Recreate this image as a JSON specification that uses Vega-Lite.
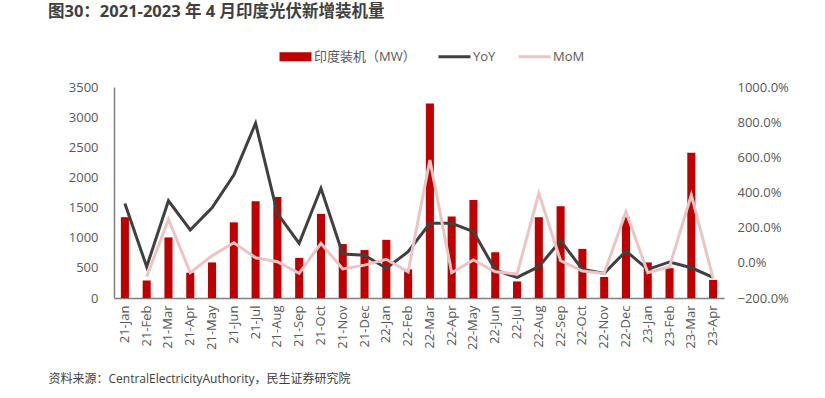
{
  "$schema": "https://vega.github.io/schema/vega-lite/v6.json",
  "width": 610,
  "height": 211,
  "autosize": {"type": "none"},
  "padding": {"left": 114, "top": 87, "right": 101, "bottom": 100},
  "background": "white",
  "title": {
    "text": "图30：2021-2023 年 4 月印度光伏新增装机量",
    "anchor": "start",
    "frame": "group",
    "dx": -66,
    "offset": 30,
    "fontSize": 16.5,
    "fontWeight": "bold",
    "color": "#404040",
    "font": "'Open Sans', 'Noto Sans CJK SC'"
  },
  "config": {
    "font": "'Open Sans', 'Noto Sans CJK SC'",
    "view": {"stroke": null},
    "axis": {"grid": false, "ticks": false, "labelColor": "#595959", "labelFontSize": 13, "domainColor": "#808080", "domainWidth": 1.5}
  },
  "data": {
    "values": [
      {"month": "21-Jan", "mw": 1340, "yoy": 338, "mom": null},
      {"month": "21-Feb", "mw": 290, "yoy": -22, "mom": -79},
      {"month": "21-Mar", "mw": 1005, "yoy": 353, "mom": 247},
      {"month": "21-Apr", "mw": 420, "yoy": 187, "mom": -56},
      {"month": "21-May", "mw": 590, "yoy": 313, "mom": 40},
      {"month": "21-Jun", "mw": 1255, "yoy": 499, "mom": 114},
      {"month": "21-Jul", "mw": 1605, "yoy": 793, "mom": 29},
      {"month": "21-Aug", "mw": 1675, "yoy": 281, "mom": 6},
      {"month": "21-Sep", "mw": 665, "yoy": 111, "mom": -60},
      {"month": "21-Oct", "mw": 1395, "yoy": 424, "mom": 111},
      {"month": "21-Nov", "mw": 895, "yoy": 50, "mom": -35},
      {"month": "21-Dec", "mw": 795, "yoy": 43, "mom": -13},
      {"month": "22-Jan", "mw": 965, "yoy": -31, "mom": 20},
      {"month": "22-Feb", "mw": 475, "yoy": 63, "mom": -51},
      {"month": "22-Mar", "mw": 3225, "yoy": 225, "mom": 585},
      {"month": "22-Apr", "mw": 1350, "yoy": 225, "mom": -56},
      {"month": "22-May", "mw": 1625, "yoy": 177, "mom": 16},
      {"month": "22-Jun", "mw": 760, "yoy": -41, "mom": -51},
      {"month": "22-Jul", "mw": 275, "yoy": -83, "mom": -64},
      {"month": "22-Aug", "mw": 1340, "yoy": -22, "mom": 395},
      {"month": "22-Sep", "mw": 1520, "yoy": 126, "mom": 12},
      {"month": "22-Oct", "mw": 815, "yoy": -37, "mom": -47},
      {"month": "22-Nov", "mw": 350, "yoy": -60, "mom": -60},
      {"month": "22-Dec", "mw": 1340, "yoy": 67, "mom": 291},
      {"month": "23-Jan", "mw": 590, "yoy": -37, "mom": -56},
      {"month": "23-Feb", "mw": 495, "yoy": 5, "mom": -22},
      {"month": "23-Mar", "mw": 2410, "yoy": -28, "mom": 386},
      {"month": "23-Apr", "mw": 300, "yoy": -83, "mom": -88}
    ]
  },
  "encoding": {
    "x": {
      "field": "month",
      "type": "ordinal",
      "sort": null,
      "scale": {"paddingInner": 0.63, "paddingOuter": 0.315},
      "axis": {
        "title": "资料来源：CentralElectricityAuthority，民生证券研究院",
        "titleAnchor": "start",
        "titleAlign": "left",
        "titleBaseline": "middle",
        "titleX": -66,
        "titleY": 80,
        "titleFontSize": 12,
        "titleFontWeight": "normal",
        "titleColor": "#404040",
        "labelAngle": -90,
        "labelPadding": 7
      }
    }
  },
  "layer": [
    {
      "mark": {"type": "bar", "color": "#C00000"},
      "encoding": {
        "y": {
          "field": "mw",
          "type": "quantitative",
          "scale": {"domain": [0, 3500], "nice": false},
          "axis": {"title": null, "format": "d", "values": [0, 500, 1000, 1500, 2000, 2500, 3000, 3500], "labelPadding": 16}
        },
        "color": {
          "datum": "印度装机（MW）",
          "type": "nominal",
          "scale": {"domain": ["印度装机（MW）", "YoY", "MoM"], "range": ["#C00000", "#404040", "#EDC4C4"]},
          "legend": {
            "title": null,
            "orient": "none",
            "direction": "horizontal",
            "legendX": 175,
            "legendY": -37,
            "symbolSize": 1024,
            "labelFontSize": 13,
            "labelColor": "#595959",
            "labelOffset": 12,
            "columnPadding": 16,
            "encode": {
              "symbols": {
                "update": {
                  "shape": {"signal": "datum.value === '印度装机（MW）' ? 'M-1,-0.28H1V0.28H-1Z' : 'stroke'"},
                  "fill": {"signal": "scale('color', datum.value)"},
                  "stroke": {"signal": "scale('color', datum.value)"},
                  "strokeWidth": {"signal": "datum.value === '印度装机（MW）' ? 0 : 3"},
                  "opacity": {"value": 1},
                  "fillOpacity": {"value": 1}
                }
              }
            }
          }
        }
      }
    },
    {
      "encoding": {
        "y": {
          "type": "quantitative",
          "scale": {"domain": [-200, 1000], "nice": false},
          "axis": {
            "title": null,
            "orient": "right",
            "domain": false,
            "values": [-200, 0, 200, 400, 600, 800, 1000],
            "labelExpr": "format(datum.value, '.1f') + '%'",
            "labelPadding": 13
          }
        }
      },
      "layer": [
        {
          "mark": {"type": "line", "strokeWidth": 3},
          "encoding": {
            "y": {"field": "yoy", "type": "quantitative"},
            "color": {"datum": "YoY", "type": "nominal"}
          }
        },
        {
          "mark": {"type": "line", "strokeWidth": 3},
          "encoding": {
            "y": {"field": "mom", "type": "quantitative"},
            "color": {"datum": "MoM", "type": "nominal"}
          }
        }
      ]
    }
  ],
  "resolve": {"scale": {"y": "independent"}}
}
